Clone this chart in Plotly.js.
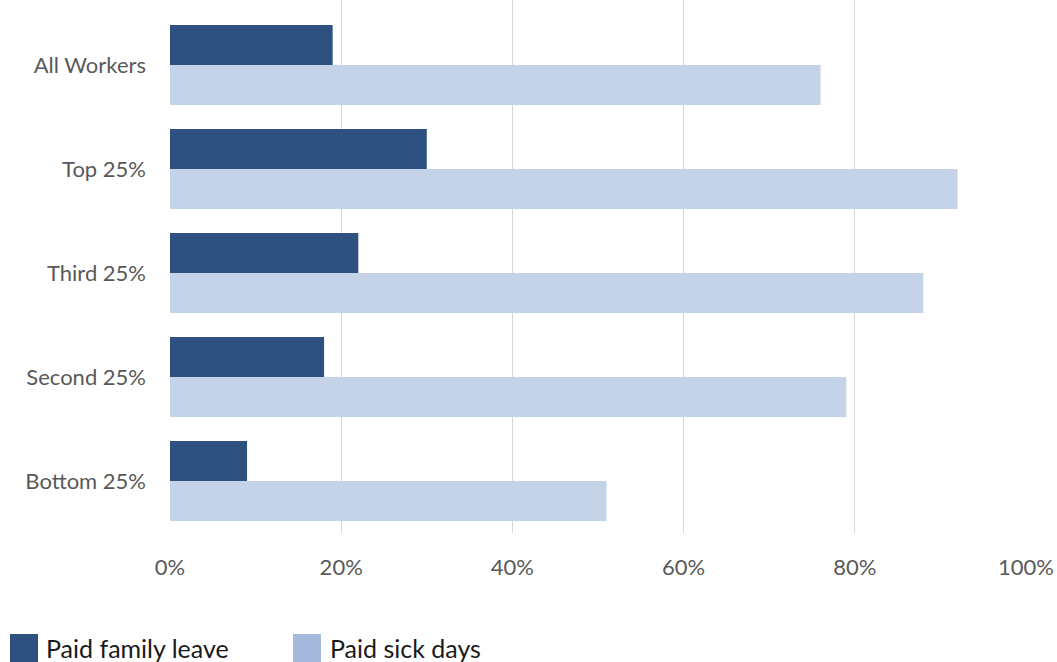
<!DOCTYPE html>
<html>
<head>
<meta charset="utf-8">
<script src="https://cdn.plot.ly/plotly-3.0.1.min.js"></script>
<style>html,body{margin:0;padding:0;background:#fff;}#chart{width:1057px;height:662px;}</style>
</head>
<body>
<div id="chart"></div>
<script>
const categories = ["Bottom 25%", "Second 25%", "Third 25%", "Top 25%", "All Workers"];
const paidFamilyLeave = [9, 18, 22, 30, 19];
const paidSickDays = [51, 79, 88, 92, 76];
const xTickVals = [0, 20, 40, 60, 80, 100];
const xTickText = ["0%", "20%", "40%", "60%", "80%", "100%"];
const seriesNames = ["Paid family leave", "Paid sick days"];

const FONT = "Lato, 'Open Sans', sans-serif";
const DARK = "#2e5180";
const LIGHT = "#c5d3e8";
const LIGHT_LEG = "#a3b9de";

const traces = [
  {type: "bar", orientation: "h", name: seriesNames[1], y: categories, x: paidSickDays,
   marker: {color: LIGHT}, hoverinfo: "x+y"},
  {type: "bar", orientation: "h", name: seriesNames[0], y: categories, x: paidFamilyLeave,
   marker: {color: DARK}, hoverinfo: "x+y"}
];

const layout = {
  width: 1057, height: 662,
  margin: {l: 170, r: 31, t: 0, b: 129, pad: 0},
  paper_bgcolor: "#fff", plot_bgcolor: "#fff",
  barmode: "group", bargap: 0.23, bargroupgap: 0,
  showlegend: false,
  font: {family: FONT, color: "#595959", size: 22},
  xaxis: {range: [0, 100], tickvals: xTickVals, ticktext: xTickText,
    showgrid: true, gridcolor: "#d9d9d9", gridwidth: 1, zeroline: false,
    showline: false, ticks: "", ticklabelstandoff: 19,
    tickfont: {family: FONT, size: 22, color: "#595959"}, fixedrange: true},
  yaxis: {type: "category", categoryorder: "array", categoryarray: categories,
    range: [-0.5, 4.625], showgrid: false, zeroline: false, showline: false,
    ticks: "", ticklabelstandoff: 23,
    tickfont: {family: FONT, size: 22, color: "#595959"}, fixedrange: true},
  shapes: [
    {type: "rect", xref: "paper", yref: "paper", x0: -160/856, x1: -132/856, y0: -129/533, y1: -101/533,
     fillcolor: DARK, line: {width: 0}},
    {type: "rect", xref: "paper", yref: "paper", x0: 123/856, x1: 151/856, y0: -129/533, y1: -101/533,
     fillcolor: LIGHT_LEG, line: {width: 0}}
  ],
  annotations: [
    {xref: "paper", yref: "paper", x: -126/856, y: -115/533, xanchor: "left", yanchor: "middle",
     text: seriesNames[0], showarrow: false, font: {family: FONT, size: 25, color: "#1a1a1a"}},
    {xref: "paper", yref: "paper", x: 158/856, y: -115/533, xanchor: "left", yanchor: "middle",
     text: seriesNames[1], showarrow: false, font: {family: FONT, size: 25, color: "#1a1a1a"}}
  ]
};

Plotly.newPlot("chart", traces, layout, {displayModeBar: false, staticPlot: true});
</script>
</body>
</html>
